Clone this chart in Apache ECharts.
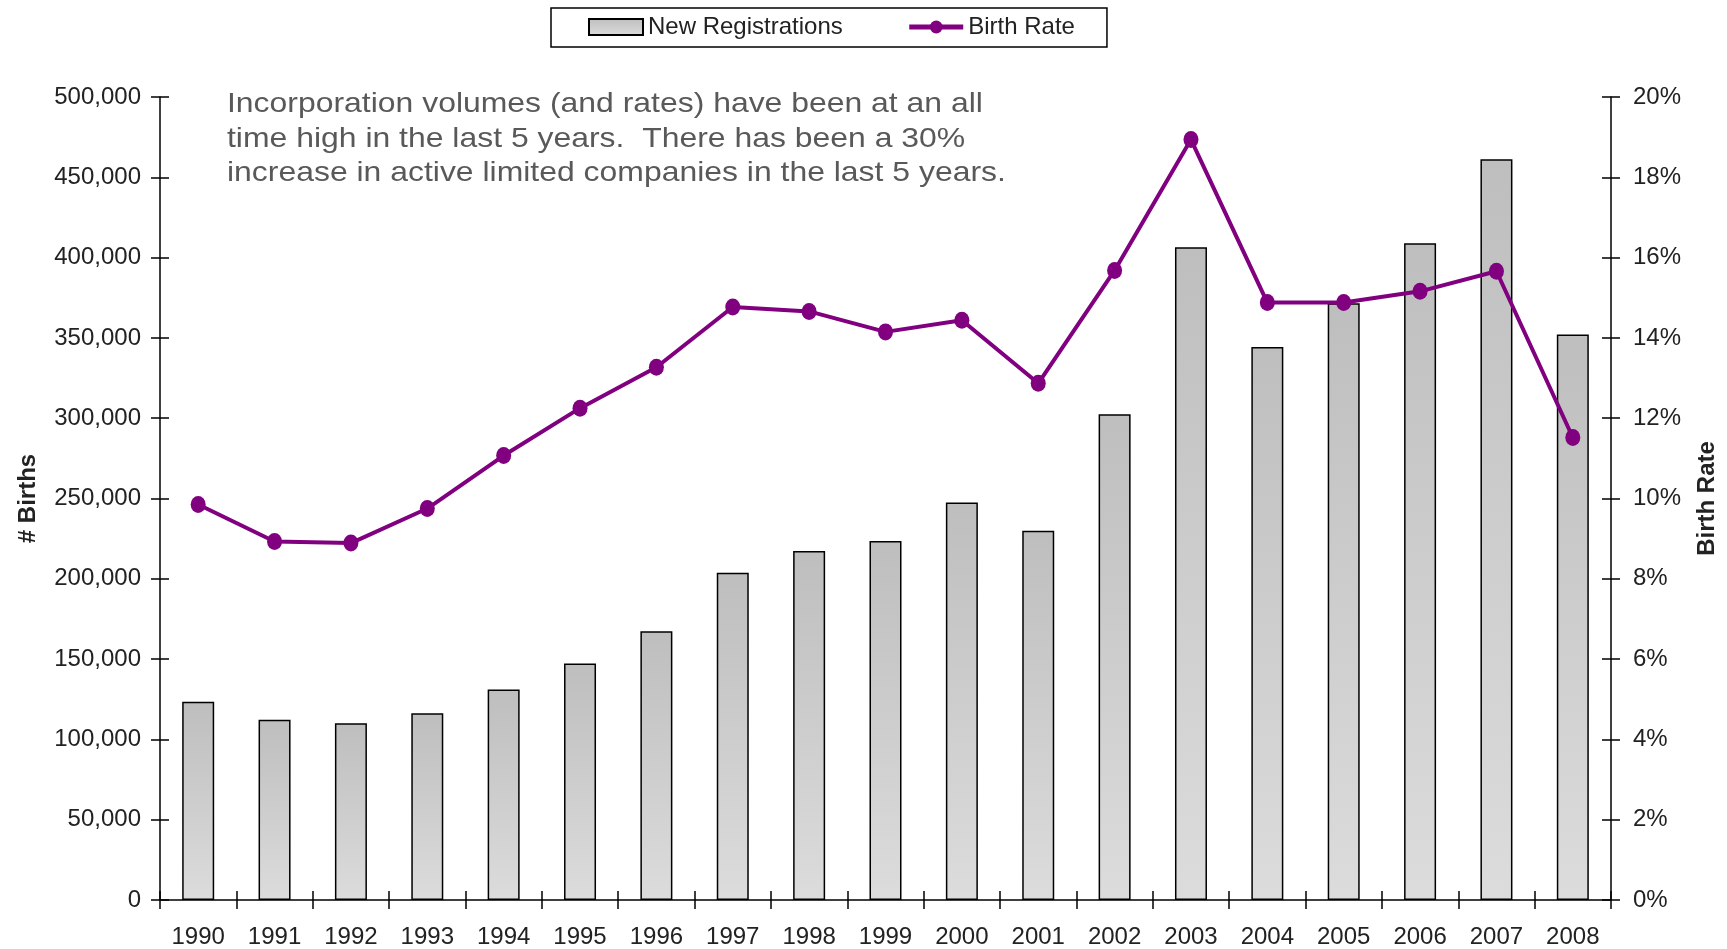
<!DOCTYPE html>
<html>
<head>
<meta charset="utf-8">
<script src="https://cdn.jsdelivr.net/npm/echarts@6/dist/echarts.min.js"></script>
<style>
html,body{margin:0;padding:0;background:#fff;overflow:hidden;width:1727px;height:949px;}
#chart{position:absolute;left:0;top:0;width:1727px;height:949px;}
</style>
</head>
<body>
<div id="chart"></div>
<script>
const years = ['1990','1991','1992','1993','1994','1995','1996','1997','1998','1999','2000','2001','2002','2003','2004','2005','2006','2007','2008'];
const registrations = [123500, 112300, 110000, 116300, 131000, 147300, 167300, 203700, 217300, 223500, 247500, 229900, 302400, 406500, 344400, 371500, 409000, 461200, 352100];
const birthRate = [9.85, 8.93, 8.89, 9.75, 11.07, 12.25, 13.27, 14.77, 14.66, 14.15, 14.44, 12.87, 15.68, 18.94, 14.88, 14.88, 15.16, 15.66, 11.52];
const noteLines = [
  'Incorporation volumes (and rates) have been at an all',
  'time high in the last 5 years.  There has been a 30%',
  'increase in active limited companies in the last 5 years.'
];

const FONT = '"Liberation Sans", Arial, sans-serif';
const chart = echarts.init(document.getElementById('chart'), null, {renderer:'canvas', width:1727, height:949});

const axisLine = {show:true, lineStyle:{color:'#000', width:1.5}};
const tickOut = {show:true, inside:false, length:9, lineStyle:{color:'#000', width:1.5}};
const tickIn = {show:true, inside:true, length:9, lineStyle:{color:'#000', width:1.5}};
const labelStyle = {color:'#222', fontFamily:FONT, fontSize:24};

chart.setOption({
  animation:false,
  backgroundColor:'#fff',
  legend:{
    left:551, top:8,
    orient:'horizontal',
    borderColor:'#000', borderWidth:1.5,
    padding:[7,32,8,37],
    itemWidth:54, itemHeight:16, itemGap:64,
    lineStyle:{width:5},
    textStyle:{color:'#222', fontFamily:FONT, fontSize:24},
    data:[{name:'New Registrations', icon:'rect'}, {name:'Birth Rate'}]
  },
  grid:{left:160, right:107, top:97, bottom:46, containLabel:false},
  graphic:[{
    type:'text', x:227, y:87, scaleX:1.14, z:10,
    style:{
      text:noteLines.join('\n'),
      fill:'#595959', font:'28px ' + FONT, lineHeight:34.7
    }
  }],
  xAxis:[{
    type:'category', data:years, position:'bottom',
    boundaryGap:true,
    axisLine:axisLine,
    axisTick:tickOut,
    axisLabel:Object.assign({margin:25, interval:0}, labelStyle),
    splitLine:{show:false}
  },{
    type:'category', data:years, position:'bottom',
    boundaryGap:true,
    axisLine:{show:false},
    axisTick:tickIn,
    axisLabel:{show:false},
    splitLine:{show:false}
  }],
  yAxis:[{
    type:'value', position:'left', min:0, max:500000, interval:50000,
    name:'# Births', nameLocation:'middle', nameGap:120, nameRotate:90,
    nameTextStyle:{color:'#222', fontFamily:FONT, fontSize:24, fontWeight:'bold'},
    axisLine:axisLine, axisTick:tickOut,
    axisLabel:Object.assign({margin:19, formatter:v => v.toLocaleString('en-US')}, labelStyle),
    splitLine:{show:false}
  },{
    type:'value', position:'right', min:0, max:20, interval:2,
    name:'Birth Rate', nameLocation:'middle', nameGap:84, nameRotate:90,
    nameTextStyle:{color:'#222', fontFamily:FONT, fontSize:24, fontWeight:'bold'},
    axisLine:axisLine, axisTick:tickOut,
    axisLabel:Object.assign({margin:22, formatter:'{value}%'}, labelStyle),
    splitLine:{show:false}
  },{
    type:'value', position:'left', min:0, max:500000, interval:50000,
    axisLine:{show:false}, axisTick:tickIn, axisLabel:{show:false}, splitLine:{show:false}
  },{
    type:'value', position:'right', min:0, max:20, interval:2,
    axisLine:{show:false}, axisTick:tickIn, axisLabel:{show:false}, splitLine:{show:false}
  }],
  series:[{
    name:'New Registrations', type:'bar', xAxisIndex:0, yAxisIndex:0,
    data:registrations, barWidth:32, z:2,
    itemStyle:{
      color:new echarts.graphic.LinearGradient(0,0,0,1,[
        {offset:0, color:'#bebebe'},
        {offset:1, color:'#dcdcdc'}
      ]),
      borderColor:'#000', borderWidth:1.5
    }
  },{
    name:'Birth Rate', type:'line', xAxisIndex:0, yAxisIndex:1,
    data:birthRate, z:5,
    symbol:'circle', symbolSize:[15,17],
    lineStyle:{color:'#800080', width:4},
    itemStyle:{color:'#800080'}
  }]
});
</script>
</body>
</html>
